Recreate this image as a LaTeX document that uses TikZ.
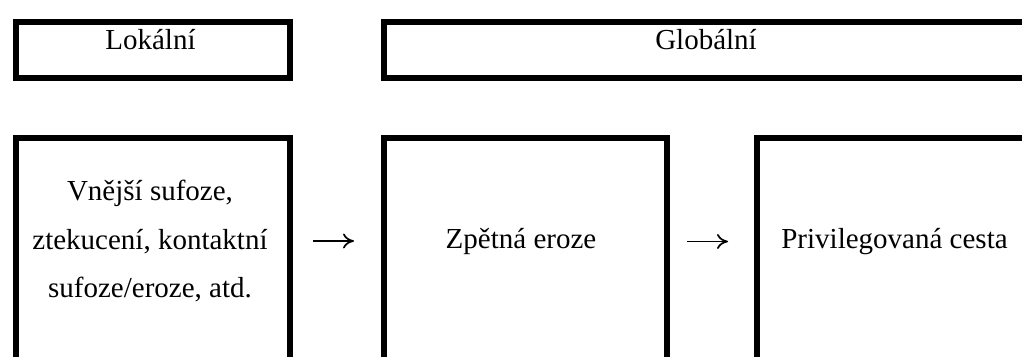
\documentclass[tikz,border=0pt]{standalone}
\usepackage{fontspec}
\setmainfont{Liberation Serif}
\usetikzlibrary{arrows.meta}
\tikzset{
  box/.style={draw=black, line width=6pt, inner sep=0pt, anchor=north west, rectangle},
  lbl/.style={anchor=base, inner sep=0pt, font=\fontsize{29}{48.5}\selectfont},
  arr/.style={line width=1.7pt, -{Computer Modern Rightarrow[length=11pt,width=15pt]}}
}
\begin{document}
\begin{tikzpicture}[x=1pt,y=-1pt]
\useasboundingbox (0,0) rectangle (1022,356);
\clip (0,0) rectangle (1022,356);
\fill[white] (0,0) rectangle (1022,356);
% top row
\node[box, minimum width=274pt, minimum height=56pt] (lok) at (13,19) {};
\node[box, minimum width=652pt, minimum height=56pt] (glob) at (381,19) {};
\node[lbl] (loktxt) at (150.5,49) {Lokální};
\node[lbl] (globtxt) at (706,49) {Globální};
% bottom row
\node[box, minimum width=274pt, minimum height=300pt] (b1) at (13,135) {};
\node[box, minimum width=282.5pt, minimum height=300pt] (b2) at (381,135) {};
\node[box, minimum width=280pt, minimum height=300pt] (b3) at (753.5,135) {};
\node[lbl] (t1) at (150,200.7) {\vtop{\baselineskip=48.5pt\halign{\hfil#\hfil\cr Vnější sufoze,\cr ztekucení, kontaktní\cr sufoze/eroze, atd.\cr}}};
\node[lbl] (t2) at (521,248) {Zpětná eroze};
\node[lbl] (t3) at (894.5,248) {Privilegovaná cesta};
% arrows
\coordinate (a1s) at (313,241);
\coordinate (a1e) at (354,241);
\coordinate (a2s) at (687,241.5);
\coordinate (a2e) at (728,241.5);
\draw[arr] (a1s) -- (a1e);
\draw[arr] (a2s) -- (a2e);
\end{tikzpicture}
\end{document}
